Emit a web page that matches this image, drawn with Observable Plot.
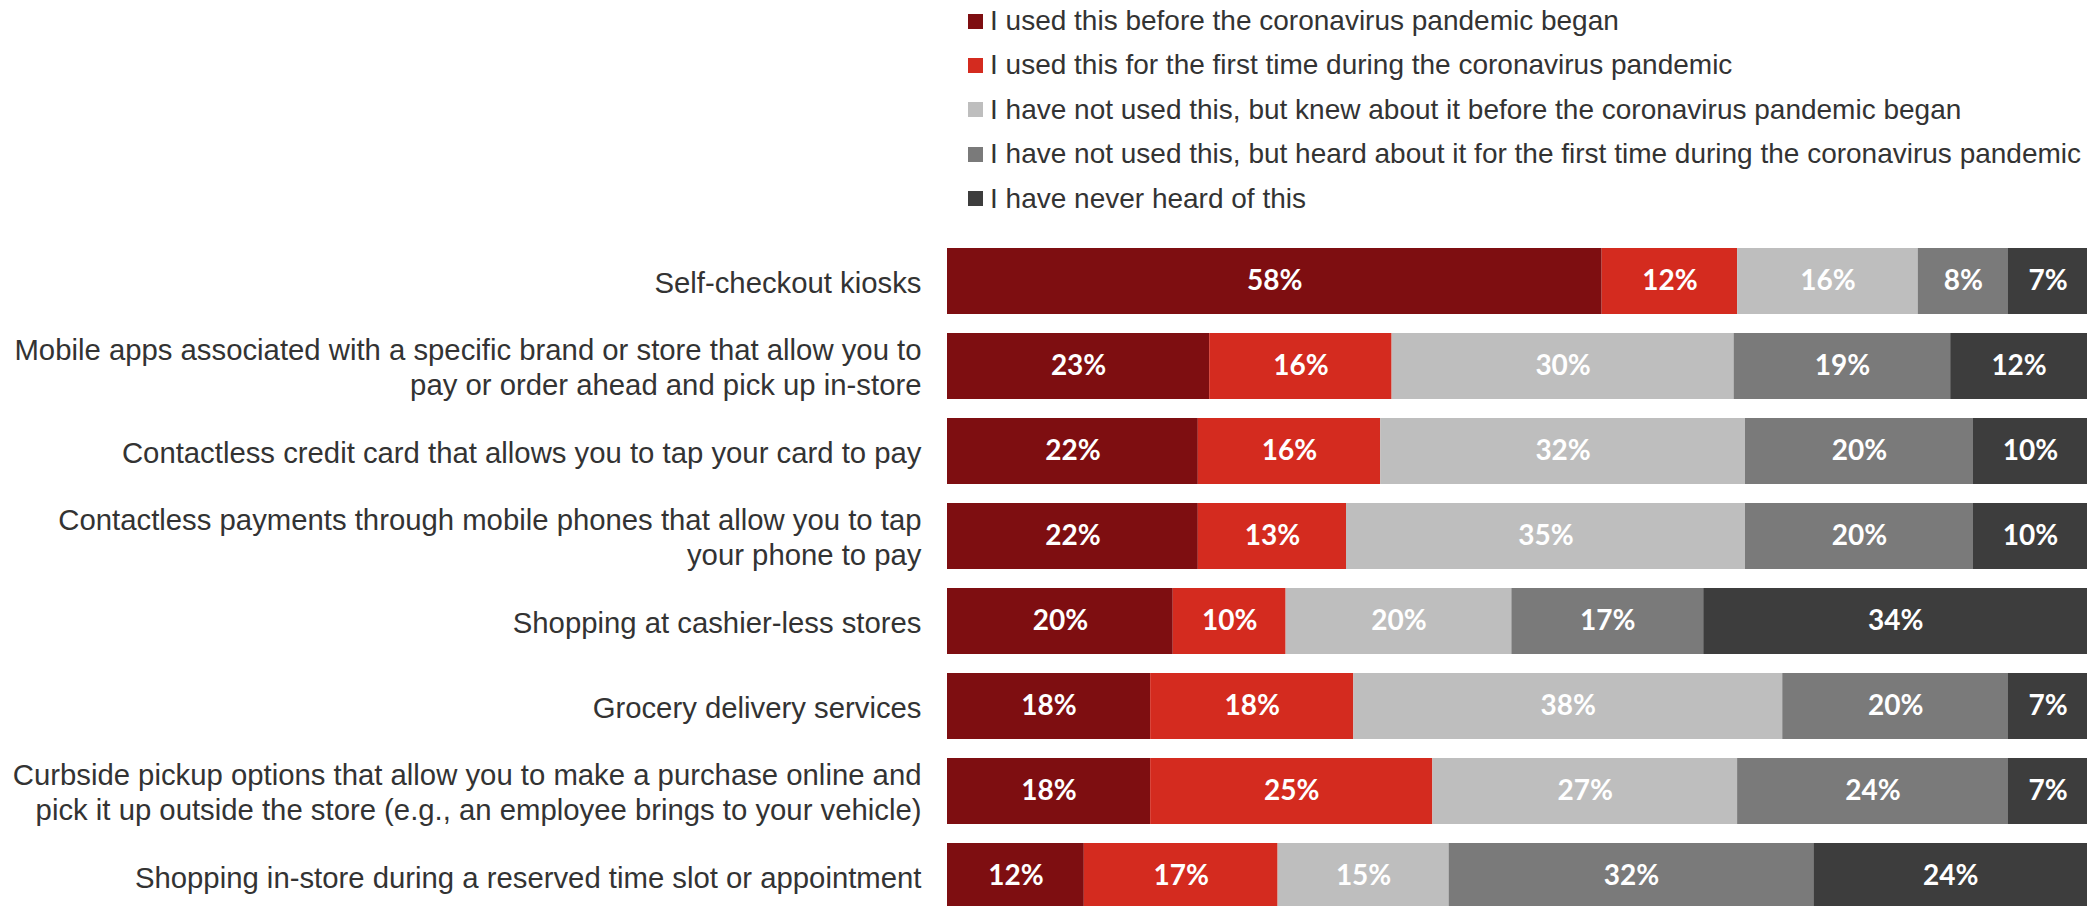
<!DOCTYPE html>
<html>
<head>
<meta charset="utf-8">
<script src="https://cdn.jsdelivr.net/npm/d3@7"></script>
<script src="https://cdn.jsdelivr.net/npm/@observablehq/plot@0.6"></script>
<style>
  html, body { margin: 0; padding: 0; background: #fff; overflow: hidden; }
  #legend { position: relative; height: 230px; font-family: "Liberation Sans", Arial, sans-serif; font-size: 28px; color: #333; }
  .item { position: absolute; left: 968px; height: 44px; display: flex; align-items: center; white-space: nowrap; }
  .sw { width: 15px; height: 15px; margin-right: 7px; flex: none; }
  #chart svg { display: block; }
</style>
</head>
<body>
<div id="legend"></div>
<div id="chart"></div>
<script>
const categories = [
  "Self-checkout kiosks",
  "Mobile apps associated with a specific brand or store that allow you to\npay or order ahead and pick up in-store",
  "Contactless credit card that allows you to tap your card to pay",
  "Contactless payments through mobile phones that allow you to tap\nyour phone to pay",
  "Shopping at cashier-less stores",
  "Grocery delivery services",
  "Curbside pickup options that allow you to make a purchase online and\npick it up outside the store (e.g., an employee brings to your vehicle)",
  "Shopping in-store during a reserved time slot or appointment"
];
const seriesNames = [
  "I used this before the coronavirus pandemic began",
  "I used this for the first time during the coronavirus pandemic",
  "I have not used this, but knew about it before the coronavirus pandemic began",
  "I have not used this, but heard about it for the first time during the coronavirus pandemic",
  "I have never heard of this"
];
const colors = ["#7e0e11", "#d42b1f", "#bebebe", "#7a7a7a", "#3d3d3d"];
const usedBefore   = [58, 23, 22, 22, 20, 18, 18, 12];
const usedFirst    = [12, 16, 16, 13, 10, 18, 25, 17];
const knewBefore   = [16, 30, 32, 35, 20, 38, 27, 15];
const heardFirst   = [ 8, 19, 20, 20, 17, 20, 24, 32];
const neverHeard   = [ 7, 12, 10, 10, 34,  7,  7, 24];

const seriesValues = [usedBefore, usedFirst, knewBefore, heardFirst, neverHeard];
const data = [];
categories.forEach((c, i) => {
  seriesNames.forEach((s, j) => {
    data.push({cat: c, series: s, value: seriesValues[j][i]});
  });
});

// Legend
const legend = document.getElementById("legend");
seriesNames.forEach((s, j) => {
  const it = document.createElement("div");
  it.className = "item";
  it.style.top = (-1 + j * 44.4) + "px";
  const sw = document.createElement("span");
  sw.className = "sw";
  sw.style.background = colors[j];
  it.appendChild(sw);
  it.appendChild(document.createTextNode(s));
  legend.appendChild(it);
});

const chart = Plot.plot({
  width: 2097,
  height: 697,
  marginLeft: 947,
  marginRight: 10,
  marginTop: 0,
  marginBottom: 0,
  x: {axis: null},
  y: {domain: categories, paddingInner: 0.2263, paddingOuter: 0.1993, label: null},
  color: {domain: seriesNames, range: colors},
  marks: [
    Plot.barX(data, Plot.stackX({offset: "normalize", x: "value", y: "cat", fill: "series"})),
    Plot.text(data, Plot.stackX({
      offset: "normalize", x: "value", y: "cat",
      text: d => d.value + "%",
      fill: "white",
      fontSize: 28,
      fontWeight: 700,
      fontFamily: "Lato, 'Open Sans', sans-serif"
    })),
    Plot.axisY({
      tickSize: 0,
      tickPadding: 26,
      fontSize: 29.3,
      lineHeight: 1.2,
      fontFamily: "'Liberation Sans', Arial, sans-serif",
      fill: "#333",
      label: null
    })
  ],
  style: {fontFamily: "'Liberation Sans', Arial, sans-serif", overflow: "visible"}
});
document.getElementById("chart").appendChild(chart);
</script>
</body>
</html>
